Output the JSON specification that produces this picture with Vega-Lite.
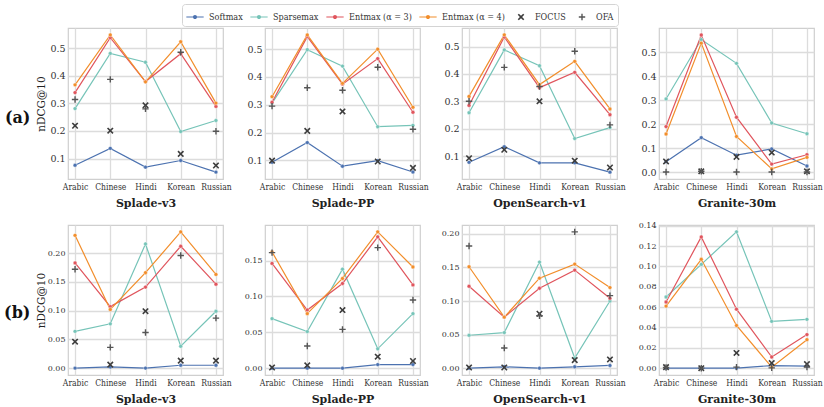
{
  "$schema": "https://vega.github.io/schema/vega-lite/v6.json",
  "padding": {"left": 4, "top": 3, "right": 5, "bottom": 2},
  "background": "white",
  "datasets": {
    "scores": [
      {"row":"a","model":"Splade-v3","method":"Softmax","lang":"Arabic","ndcg":0.076},
      {"row":"a","model":"Splade-v3","method":"Softmax","lang":"Chinese","ndcg":0.137},
      {"row":"a","model":"Splade-v3","method":"Softmax","lang":"Hindi","ndcg":0.069},
      {"row":"a","model":"Splade-v3","method":"Softmax","lang":"Korean","ndcg":0.093},
      {"row":"a","model":"Splade-v3","method":"Softmax","lang":"Russian","ndcg":0.051},
      {"row":"a","model":"Splade-v3","method":"Sparsemax","lang":"Arabic","ndcg":0.281},
      {"row":"a","model":"Splade-v3","method":"Sparsemax","lang":"Chinese","ndcg":0.481},
      {"row":"a","model":"Splade-v3","method":"Sparsemax","lang":"Hindi","ndcg":0.449},
      {"row":"a","model":"Splade-v3","method":"Sparsemax","lang":"Korean","ndcg":0.198},
      {"row":"a","model":"Splade-v3","method":"Sparsemax","lang":"Russian","ndcg":0.238},
      {"row":"a","model":"Splade-v3","method":"Entmax (α = 3)","lang":"Arabic","ndcg":0.339},
      {"row":"a","model":"Splade-v3","method":"Entmax (α = 3)","lang":"Chinese","ndcg":0.538},
      {"row":"a","model":"Splade-v3","method":"Entmax (α = 3)","lang":"Hindi","ndcg":0.379},
      {"row":"a","model":"Splade-v3","method":"Entmax (α = 3)","lang":"Korean","ndcg":0.480},
      {"row":"a","model":"Splade-v3","method":"Entmax (α = 3)","lang":"Russian","ndcg":0.289},
      {"row":"a","model":"Splade-v3","method":"Entmax (α = 4)","lang":"Arabic","ndcg":0.367},
      {"row":"a","model":"Splade-v3","method":"Entmax (α = 4)","lang":"Chinese","ndcg":0.548},
      {"row":"a","model":"Splade-v3","method":"Entmax (α = 4)","lang":"Hindi","ndcg":0.378},
      {"row":"a","model":"Splade-v3","method":"Entmax (α = 4)","lang":"Korean","ndcg":0.523},
      {"row":"a","model":"Splade-v3","method":"Entmax (α = 4)","lang":"Russian","ndcg":0.301},
      {"row":"a","model":"Splade-v3","method":"FOCUS","lang":"Arabic","ndcg":0.219},
      {"row":"a","model":"Splade-v3","method":"FOCUS","lang":"Chinese","ndcg":0.201},
      {"row":"a","model":"Splade-v3","method":"FOCUS","lang":"Hindi","ndcg":0.293},
      {"row":"a","model":"Splade-v3","method":"FOCUS","lang":"Korean","ndcg":0.117},
      {"row":"a","model":"Splade-v3","method":"FOCUS","lang":"Russian","ndcg":0.075},
      {"row":"a","model":"Splade-v3","method":"OFA","lang":"Arabic","ndcg":0.314},
      {"row":"a","model":"Splade-v3","method":"OFA","lang":"Chinese","ndcg":0.387},
      {"row":"a","model":"Splade-v3","method":"OFA","lang":"Hindi","ndcg":0.280},
      {"row":"a","model":"Splade-v3","method":"OFA","lang":"Korean","ndcg":0.485},
      {"row":"a","model":"Splade-v3","method":"OFA","lang":"Russian","ndcg":0.199},

      {"row":"a","model":"Splade-PP","method":"Softmax","lang":"Arabic","ndcg":0.093},
      {"row":"a","model":"Splade-PP","method":"Softmax","lang":"Chinese","ndcg":0.164},
      {"row":"a","model":"Splade-PP","method":"Softmax","lang":"Hindi","ndcg":0.079},
      {"row":"a","model":"Splade-PP","method":"Softmax","lang":"Korean","ndcg":0.099},
      {"row":"a","model":"Splade-PP","method":"Softmax","lang":"Russian","ndcg":0.058},
      {"row":"a","model":"Splade-PP","method":"Sparsemax","lang":"Arabic","ndcg":0.306},
      {"row":"a","model":"Splade-PP","method":"Sparsemax","lang":"Chinese","ndcg":0.498},
      {"row":"a","model":"Splade-PP","method":"Sparsemax","lang":"Hindi","ndcg":0.439},
      {"row":"a","model":"Splade-PP","method":"Sparsemax","lang":"Korean","ndcg":0.221},
      {"row":"a","model":"Splade-PP","method":"Sparsemax","lang":"Russian","ndcg":0.226},
      {"row":"a","model":"Splade-PP","method":"Entmax (α = 3)","lang":"Arabic","ndcg":0.309},
      {"row":"a","model":"Splade-PP","method":"Entmax (α = 3)","lang":"Chinese","ndcg":0.545},
      {"row":"a","model":"Splade-PP","method":"Entmax (α = 3)","lang":"Hindi","ndcg":0.374},
      {"row":"a","model":"Splade-PP","method":"Entmax (α = 3)","lang":"Korean","ndcg":0.466},
      {"row":"a","model":"Splade-PP","method":"Entmax (α = 3)","lang":"Russian","ndcg":0.273},
      {"row":"a","model":"Splade-PP","method":"Entmax (α = 4)","lang":"Arabic","ndcg":0.329},
      {"row":"a","model":"Splade-PP","method":"Entmax (α = 4)","lang":"Chinese","ndcg":0.551},
      {"row":"a","model":"Splade-PP","method":"Entmax (α = 4)","lang":"Hindi","ndcg":0.377},
      {"row":"a","model":"Splade-PP","method":"Entmax (α = 4)","lang":"Korean","ndcg":0.500},
      {"row":"a","model":"Splade-PP","method":"Entmax (α = 4)","lang":"Russian","ndcg":0.291},
      {"row":"a","model":"Splade-PP","method":"FOCUS","lang":"Arabic","ndcg":0.099},
      {"row":"a","model":"Splade-PP","method":"FOCUS","lang":"Chinese","ndcg":0.206},
      {"row":"a","model":"Splade-PP","method":"FOCUS","lang":"Hindi","ndcg":0.276},
      {"row":"a","model":"Splade-PP","method":"FOCUS","lang":"Korean","ndcg":0.096},
      {"row":"a","model":"Splade-PP","method":"FOCUS","lang":"Russian","ndcg":0.073},
      {"row":"a","model":"Splade-PP","method":"OFA","lang":"Arabic","ndcg":0.295},
      {"row":"a","model":"Splade-PP","method":"OFA","lang":"Chinese","ndcg":0.361},
      {"row":"a","model":"Splade-PP","method":"OFA","lang":"Hindi","ndcg":0.352},
      {"row":"a","model":"Splade-PP","method":"OFA","lang":"Korean","ndcg":0.435},
      {"row":"a","model":"Splade-PP","method":"OFA","lang":"Russian","ndcg":0.212},

      {"row":"a","model":"OpenSearch-v1","method":"Softmax","lang":"Arabic","ndcg":0.077},
      {"row":"a","model":"OpenSearch-v1","method":"Softmax","lang":"Chinese","ndcg":0.134},
      {"row":"a","model":"OpenSearch-v1","method":"Softmax","lang":"Hindi","ndcg":0.075},
      {"row":"a","model":"OpenSearch-v1","method":"Softmax","lang":"Korean","ndcg":0.075},
      {"row":"a","model":"OpenSearch-v1","method":"Softmax","lang":"Russian","ndcg":0.041},
      {"row":"a","model":"OpenSearch-v1","method":"Sparsemax","lang":"Arabic","ndcg":0.258},
      {"row":"a","model":"OpenSearch-v1","method":"Sparsemax","lang":"Chinese","ndcg":0.488},
      {"row":"a","model":"OpenSearch-v1","method":"Sparsemax","lang":"Hindi","ndcg":0.430},
      {"row":"a","model":"OpenSearch-v1","method":"Sparsemax","lang":"Korean","ndcg":0.164},
      {"row":"a","model":"OpenSearch-v1","method":"Sparsemax","lang":"Russian","ndcg":0.204},
      {"row":"a","model":"OpenSearch-v1","method":"Entmax (α = 3)","lang":"Arabic","ndcg":0.285},
      {"row":"a","model":"OpenSearch-v1","method":"Entmax (α = 3)","lang":"Chinese","ndcg":0.535},
      {"row":"a","model":"OpenSearch-v1","method":"Entmax (α = 3)","lang":"Hindi","ndcg":0.350},
      {"row":"a","model":"OpenSearch-v1","method":"Entmax (α = 3)","lang":"Korean","ndcg":0.406},
      {"row":"a","model":"OpenSearch-v1","method":"Entmax (α = 3)","lang":"Russian","ndcg":0.251},
      {"row":"a","model":"OpenSearch-v1","method":"Entmax (α = 4)","lang":"Arabic","ndcg":0.318},
      {"row":"a","model":"OpenSearch-v1","method":"Entmax (α = 4)","lang":"Chinese","ndcg":0.543},
      {"row":"a","model":"OpenSearch-v1","method":"Entmax (α = 4)","lang":"Hindi","ndcg":0.361},
      {"row":"a","model":"OpenSearch-v1","method":"Entmax (α = 4)","lang":"Korean","ndcg":0.446},
      {"row":"a","model":"OpenSearch-v1","method":"Entmax (α = 4)","lang":"Russian","ndcg":0.272},
      {"row":"a","model":"OpenSearch-v1","method":"FOCUS","lang":"Arabic","ndcg":0.092},
      {"row":"a","model":"OpenSearch-v1","method":"FOCUS","lang":"Chinese","ndcg":0.123},
      {"row":"a","model":"OpenSearch-v1","method":"FOCUS","lang":"Hindi","ndcg":0.300},
      {"row":"a","model":"OpenSearch-v1","method":"FOCUS","lang":"Korean","ndcg":0.083},
      {"row":"a","model":"OpenSearch-v1","method":"FOCUS","lang":"Russian","ndcg":0.058},
      {"row":"a","model":"OpenSearch-v1","method":"OFA","lang":"Arabic","ndcg":0.300},
      {"row":"a","model":"OpenSearch-v1","method":"OFA","lang":"Chinese","ndcg":0.424},
      {"row":"a","model":"OpenSearch-v1","method":"OFA","lang":"Hindi","ndcg":0.354},
      {"row":"a","model":"OpenSearch-v1","method":"OFA","lang":"Korean","ndcg":0.483},
      {"row":"a","model":"OpenSearch-v1","method":"OFA","lang":"Russian","ndcg":0.214},

      {"row":"a","model":"Granite-30m","method":"Softmax","lang":"Arabic","ndcg":0.044},
      {"row":"a","model":"Granite-30m","method":"Softmax","lang":"Chinese","ndcg":0.144},
      {"row":"a","model":"Granite-30m","method":"Softmax","lang":"Hindi","ndcg":0.071},
      {"row":"a","model":"Granite-30m","method":"Softmax","lang":"Korean","ndcg":0.097},
      {"row":"a","model":"Granite-30m","method":"Softmax","lang":"Russian","ndcg":0.026},
      {"row":"a","model":"Granite-30m","method":"Sparsemax","lang":"Arabic","ndcg":0.305},
      {"row":"a","model":"Granite-30m","method":"Sparsemax","lang":"Chinese","ndcg":0.552},
      {"row":"a","model":"Granite-30m","method":"Sparsemax","lang":"Hindi","ndcg":0.453},
      {"row":"a","model":"Granite-30m","method":"Sparsemax","lang":"Korean","ndcg":0.205},
      {"row":"a","model":"Granite-30m","method":"Sparsemax","lang":"Russian","ndcg":0.160},
      {"row":"a","model":"Granite-30m","method":"Entmax (α = 3)","lang":"Arabic","ndcg":0.190},
      {"row":"a","model":"Granite-30m","method":"Entmax (α = 3)","lang":"Chinese","ndcg":0.571},
      {"row":"a","model":"Granite-30m","method":"Entmax (α = 3)","lang":"Hindi","ndcg":0.229},
      {"row":"a","model":"Granite-30m","method":"Entmax (α = 3)","lang":"Korean","ndcg":0.034},
      {"row":"a","model":"Granite-30m","method":"Entmax (α = 3)","lang":"Russian","ndcg":0.073},
      {"row":"a","model":"Granite-30m","method":"Entmax (α = 4)","lang":"Arabic","ndcg":0.159},
      {"row":"a","model":"Granite-30m","method":"Entmax (α = 4)","lang":"Chinese","ndcg":0.537},
      {"row":"a","model":"Granite-30m","method":"Entmax (α = 4)","lang":"Hindi","ndcg":0.149},
      {"row":"a","model":"Granite-30m","method":"Entmax (α = 4)","lang":"Korean","ndcg":0.014},
      {"row":"a","model":"Granite-30m","method":"Entmax (α = 4)","lang":"Russian","ndcg":0.062},
      {"row":"a","model":"Granite-30m","method":"FOCUS","lang":"Arabic","ndcg":0.045},
      {"row":"a","model":"Granite-30m","method":"FOCUS","lang":"Chinese","ndcg":0.004},
      {"row":"a","model":"Granite-30m","method":"FOCUS","lang":"Hindi","ndcg":0.064},
      {"row":"a","model":"Granite-30m","method":"FOCUS","lang":"Korean","ndcg":0.082},
      {"row":"a","model":"Granite-30m","method":"FOCUS","lang":"Russian","ndcg":0.004},
      {"row":"a","model":"Granite-30m","method":"OFA","lang":"Arabic","ndcg":0.001},
      {"row":"a","model":"Granite-30m","method":"OFA","lang":"Chinese","ndcg":0.004},
      {"row":"a","model":"Granite-30m","method":"OFA","lang":"Hindi","ndcg":0.001},
      {"row":"a","model":"Granite-30m","method":"OFA","lang":"Korean","ndcg":0.001},
      {"row":"a","model":"Granite-30m","method":"OFA","lang":"Russian","ndcg":0.001},

      {"row":"b","model":"Splade-v3","method":"Softmax","lang":"Arabic","ndcg":0.000},
      {"row":"b","model":"Splade-v3","method":"Softmax","lang":"Chinese","ndcg":0.002},
      {"row":"b","model":"Splade-v3","method":"Softmax","lang":"Hindi","ndcg":0.000},
      {"row":"b","model":"Splade-v3","method":"Softmax","lang":"Korean","ndcg":0.005},
      {"row":"b","model":"Splade-v3","method":"Softmax","lang":"Russian","ndcg":0.005},
      {"row":"b","model":"Splade-v3","method":"Sparsemax","lang":"Arabic","ndcg":0.064},
      {"row":"b","model":"Splade-v3","method":"Sparsemax","lang":"Chinese","ndcg":0.077},
      {"row":"b","model":"Splade-v3","method":"Sparsemax","lang":"Hindi","ndcg":0.216},
      {"row":"b","model":"Splade-v3","method":"Sparsemax","lang":"Korean","ndcg":0.038},
      {"row":"b","model":"Splade-v3","method":"Sparsemax","lang":"Russian","ndcg":0.099},
      {"row":"b","model":"Splade-v3","method":"Entmax (α = 3)","lang":"Arabic","ndcg":0.183},
      {"row":"b","model":"Splade-v3","method":"Entmax (α = 3)","lang":"Chinese","ndcg":0.107},
      {"row":"b","model":"Splade-v3","method":"Entmax (α = 3)","lang":"Hindi","ndcg":0.141},
      {"row":"b","model":"Splade-v3","method":"Entmax (α = 3)","lang":"Korean","ndcg":0.212},
      {"row":"b","model":"Splade-v3","method":"Entmax (α = 3)","lang":"Russian","ndcg":0.146},
      {"row":"b","model":"Splade-v3","method":"Entmax (α = 4)","lang":"Arabic","ndcg":0.231},
      {"row":"b","model":"Splade-v3","method":"Entmax (α = 4)","lang":"Chinese","ndcg":0.102},
      {"row":"b","model":"Splade-v3","method":"Entmax (α = 4)","lang":"Hindi","ndcg":0.166},
      {"row":"b","model":"Splade-v3","method":"Entmax (α = 4)","lang":"Korean","ndcg":0.237},
      {"row":"b","model":"Splade-v3","method":"Entmax (α = 4)","lang":"Russian","ndcg":0.163},
      {"row":"b","model":"Splade-v3","method":"FOCUS","lang":"Arabic","ndcg":0.046},
      {"row":"b","model":"Splade-v3","method":"FOCUS","lang":"Chinese","ndcg":0.006},
      {"row":"b","model":"Splade-v3","method":"FOCUS","lang":"Hindi","ndcg":0.099},
      {"row":"b","model":"Splade-v3","method":"FOCUS","lang":"Korean","ndcg":0.013},
      {"row":"b","model":"Splade-v3","method":"FOCUS","lang":"Russian","ndcg":0.013},
      {"row":"b","model":"Splade-v3","method":"OFA","lang":"Arabic","ndcg":0.172},
      {"row":"b","model":"Splade-v3","method":"OFA","lang":"Chinese","ndcg":0.036},
      {"row":"b","model":"Splade-v3","method":"OFA","lang":"Hindi","ndcg":0.062},
      {"row":"b","model":"Splade-v3","method":"OFA","lang":"Korean","ndcg":0.196},
      {"row":"b","model":"Splade-v3","method":"OFA","lang":"Russian","ndcg":0.087},

      {"row":"b","model":"Splade-PP","method":"Softmax","lang":"Arabic","ndcg":0.000},
      {"row":"b","model":"Splade-PP","method":"Softmax","lang":"Chinese","ndcg":0.000},
      {"row":"b","model":"Splade-PP","method":"Softmax","lang":"Hindi","ndcg":0.000},
      {"row":"b","model":"Splade-PP","method":"Softmax","lang":"Korean","ndcg":0.005},
      {"row":"b","model":"Splade-PP","method":"Softmax","lang":"Russian","ndcg":0.005},
      {"row":"b","model":"Splade-PP","method":"Sparsemax","lang":"Arabic","ndcg":0.069},
      {"row":"b","model":"Splade-PP","method":"Sparsemax","lang":"Chinese","ndcg":0.051},
      {"row":"b","model":"Splade-PP","method":"Sparsemax","lang":"Hindi","ndcg":0.138},
      {"row":"b","model":"Splade-PP","method":"Sparsemax","lang":"Korean","ndcg":0.027},
      {"row":"b","model":"Splade-PP","method":"Sparsemax","lang":"Russian","ndcg":0.076},
      {"row":"b","model":"Splade-PP","method":"Entmax (α = 3)","lang":"Arabic","ndcg":0.146},
      {"row":"b","model":"Splade-PP","method":"Entmax (α = 3)","lang":"Chinese","ndcg":0.081},
      {"row":"b","model":"Splade-PP","method":"Entmax (α = 3)","lang":"Hindi","ndcg":0.118},
      {"row":"b","model":"Splade-PP","method":"Entmax (α = 3)","lang":"Korean","ndcg":0.183},
      {"row":"b","model":"Splade-PP","method":"Entmax (α = 3)","lang":"Russian","ndcg":0.116},
      {"row":"b","model":"Splade-PP","method":"Entmax (α = 4)","lang":"Arabic","ndcg":0.162},
      {"row":"b","model":"Splade-PP","method":"Entmax (α = 4)","lang":"Chinese","ndcg":0.076},
      {"row":"b","model":"Splade-PP","method":"Entmax (α = 4)","lang":"Hindi","ndcg":0.125},
      {"row":"b","model":"Splade-PP","method":"Entmax (α = 4)","lang":"Korean","ndcg":0.190},
      {"row":"b","model":"Splade-PP","method":"Entmax (α = 4)","lang":"Russian","ndcg":0.141},
      {"row":"b","model":"Splade-PP","method":"FOCUS","lang":"Arabic","ndcg":0.001},
      {"row":"b","model":"Splade-PP","method":"FOCUS","lang":"Chinese","ndcg":0.004},
      {"row":"b","model":"Splade-PP","method":"FOCUS","lang":"Hindi","ndcg":0.081},
      {"row":"b","model":"Splade-PP","method":"FOCUS","lang":"Korean","ndcg":0.016},
      {"row":"b","model":"Splade-PP","method":"FOCUS","lang":"Russian","ndcg":0.010},
      {"row":"b","model":"Splade-PP","method":"OFA","lang":"Arabic","ndcg":0.161},
      {"row":"b","model":"Splade-PP","method":"OFA","lang":"Chinese","ndcg":0.031},
      {"row":"b","model":"Splade-PP","method":"OFA","lang":"Hindi","ndcg":0.054},
      {"row":"b","model":"Splade-PP","method":"OFA","lang":"Korean","ndcg":0.168},
      {"row":"b","model":"Splade-PP","method":"OFA","lang":"Russian","ndcg":0.095},

      {"row":"b","model":"OpenSearch-v1","method":"Softmax","lang":"Arabic","ndcg":0.000},
      {"row":"b","model":"OpenSearch-v1","method":"Softmax","lang":"Chinese","ndcg":0.002},
      {"row":"b","model":"OpenSearch-v1","method":"Softmax","lang":"Hindi","ndcg":0.000},
      {"row":"b","model":"OpenSearch-v1","method":"Softmax","lang":"Korean","ndcg":0.002},
      {"row":"b","model":"OpenSearch-v1","method":"Softmax","lang":"Russian","ndcg":0.004},
      {"row":"b","model":"OpenSearch-v1","method":"Sparsemax","lang":"Arabic","ndcg":0.049},
      {"row":"b","model":"OpenSearch-v1","method":"Sparsemax","lang":"Chinese","ndcg":0.053},
      {"row":"b","model":"OpenSearch-v1","method":"Sparsemax","lang":"Hindi","ndcg":0.158},
      {"row":"b","model":"OpenSearch-v1","method":"Sparsemax","lang":"Korean","ndcg":0.015},
      {"row":"b","model":"OpenSearch-v1","method":"Sparsemax","lang":"Russian","ndcg":0.100},
      {"row":"b","model":"OpenSearch-v1","method":"Entmax (α = 3)","lang":"Arabic","ndcg":0.122},
      {"row":"b","model":"OpenSearch-v1","method":"Entmax (α = 3)","lang":"Chinese","ndcg":0.076},
      {"row":"b","model":"OpenSearch-v1","method":"Entmax (α = 3)","lang":"Hindi","ndcg":0.119},
      {"row":"b","model":"OpenSearch-v1","method":"Entmax (α = 3)","lang":"Korean","ndcg":0.146},
      {"row":"b","model":"OpenSearch-v1","method":"Entmax (α = 3)","lang":"Russian","ndcg":0.104},
      {"row":"b","model":"OpenSearch-v1","method":"Entmax (α = 4)","lang":"Arabic","ndcg":0.151},
      {"row":"b","model":"OpenSearch-v1","method":"Entmax (α = 4)","lang":"Chinese","ndcg":0.076},
      {"row":"b","model":"OpenSearch-v1","method":"Entmax (α = 4)","lang":"Hindi","ndcg":0.134},
      {"row":"b","model":"OpenSearch-v1","method":"Entmax (α = 4)","lang":"Korean","ndcg":0.155},
      {"row":"b","model":"OpenSearch-v1","method":"Entmax (α = 4)","lang":"Russian","ndcg":0.120},
      {"row":"b","model":"OpenSearch-v1","method":"FOCUS","lang":"Arabic","ndcg":0.001},
      {"row":"b","model":"OpenSearch-v1","method":"FOCUS","lang":"Chinese","ndcg":0.001},
      {"row":"b","model":"OpenSearch-v1","method":"FOCUS","lang":"Hindi","ndcg":0.081},
      {"row":"b","model":"OpenSearch-v1","method":"FOCUS","lang":"Korean","ndcg":0.012},
      {"row":"b","model":"OpenSearch-v1","method":"FOCUS","lang":"Russian","ndcg":0.013},
      {"row":"b","model":"OpenSearch-v1","method":"OFA","lang":"Arabic","ndcg":0.182},
      {"row":"b","model":"OpenSearch-v1","method":"OFA","lang":"Chinese","ndcg":0.030},
      {"row":"b","model":"OpenSearch-v1","method":"OFA","lang":"Hindi","ndcg":0.078},
      {"row":"b","model":"OpenSearch-v1","method":"OFA","lang":"Korean","ndcg":0.203},
      {"row":"b","model":"OpenSearch-v1","method":"OFA","lang":"Russian","ndcg":0.108},

      {"row":"b","model":"Granite-30m","method":"Softmax","lang":"Arabic","ndcg":0.000},
      {"row":"b","model":"Granite-30m","method":"Softmax","lang":"Chinese","ndcg":0.000},
      {"row":"b","model":"Granite-30m","method":"Softmax","lang":"Hindi","ndcg":0.000},
      {"row":"b","model":"Granite-30m","method":"Softmax","lang":"Korean","ndcg":0.0026},
      {"row":"b","model":"Granite-30m","method":"Softmax","lang":"Russian","ndcg":0.002},
      {"row":"b","model":"Granite-30m","method":"Sparsemax","lang":"Arabic","ndcg":0.070},
      {"row":"b","model":"Granite-30m","method":"Sparsemax","lang":"Chinese","ndcg":0.102},
      {"row":"b","model":"Granite-30m","method":"Sparsemax","lang":"Hindi","ndcg":0.134},
      {"row":"b","model":"Granite-30m","method":"Sparsemax","lang":"Korean","ndcg":0.046},
      {"row":"b","model":"Granite-30m","method":"Sparsemax","lang":"Russian","ndcg":0.048},
      {"row":"b","model":"Granite-30m","method":"Entmax (α = 3)","lang":"Arabic","ndcg":0.065},
      {"row":"b","model":"Granite-30m","method":"Entmax (α = 3)","lang":"Chinese","ndcg":0.129},
      {"row":"b","model":"Granite-30m","method":"Entmax (α = 3)","lang":"Hindi","ndcg":0.058},
      {"row":"b","model":"Granite-30m","method":"Entmax (α = 3)","lang":"Korean","ndcg":0.011},
      {"row":"b","model":"Granite-30m","method":"Entmax (α = 3)","lang":"Russian","ndcg":0.033},
      {"row":"b","model":"Granite-30m","method":"Entmax (α = 4)","lang":"Arabic","ndcg":0.061},
      {"row":"b","model":"Granite-30m","method":"Entmax (α = 4)","lang":"Chinese","ndcg":0.107},
      {"row":"b","model":"Granite-30m","method":"Entmax (α = 4)","lang":"Hindi","ndcg":0.042},
      {"row":"b","model":"Granite-30m","method":"Entmax (α = 4)","lang":"Korean","ndcg":0.001},
      {"row":"b","model":"Granite-30m","method":"Entmax (α = 4)","lang":"Russian","ndcg":0.028},
      {"row":"b","model":"Granite-30m","method":"FOCUS","lang":"Arabic","ndcg":0.001},
      {"row":"b","model":"Granite-30m","method":"FOCUS","lang":"Chinese","ndcg":0.000},
      {"row":"b","model":"Granite-30m","method":"FOCUS","lang":"Hindi","ndcg":0.015},
      {"row":"b","model":"Granite-30m","method":"FOCUS","lang":"Korean","ndcg":0.005},
      {"row":"b","model":"Granite-30m","method":"FOCUS","lang":"Russian","ndcg":0.004},
      {"row":"b","model":"Granite-30m","method":"OFA","lang":"Arabic","ndcg":0.0007},
      {"row":"b","model":"Granite-30m","method":"OFA","lang":"Chinese","ndcg":0.000},
      {"row":"b","model":"Granite-30m","method":"OFA","lang":"Hindi","ndcg":0.001},
      {"row":"b","model":"Granite-30m","method":"OFA","lang":"Korean","ndcg":0.0003},
      {"row":"b","model":"Granite-30m","method":"OFA","lang":"Russian","ndcg":0.001}
    ]
  },
  "data": {"name": "scores"},
  "config": {
    "font": "DejaVu Serif",
    "view": {"stroke": "#cfcfcf", "strokeWidth": 1.2},
    "axis": {
      "grid": true, "gridColor": "#dcdcdc", "gridWidth": 1.3,
      "domain": false, "ticks": false,
      "labelFont": "DejaVu Serif", "labelColor": "#333333", "labelFontSize": 9.5, "labelPadding": 3,
      "titleFont": "DejaVu Serif", "titleColor": "#222222"
    },
    "axisX": {"labelAngle": 0, "labelFont": "DejaVu Serif Condensed, DejaVu Serif", "labelFontSize": 8.5, "titleFontWeight": "bold", "titleFontSize": 11, "titlePadding": 7},
    "axisY": {"titleFontWeight": "normal", "titleFontSize": 10.5, "titlePadding": 2},
    "legend": {
      "labelFont": "DejaVu Serif Condensed, DejaVu Serif", "labelFontSize": 9, "labelColor": "#333333", "labelOffset": 5,
      "symbolSize": 300, "symbolStrokeWidth": 0, "columnPadding": 7,
      "strokeColor": "#d4d4d4", "padding": 4, "cornerRadius": 3, "fillColor": "white"
    }
  },
  "spacing": 11,
  "vconcat": [
    {
      "title": {"text": "(a)", "orient": "left", "angle": 0, "anchor": "middle", "align": "left", "baseline": "middle", "fontSize": 16, "fontWeight": "bold", "font": "DejaVu Serif", "color": "#111111", "offset": 5},
      "spacing": 42,
      "bounds": "flush",
      "hconcat": [
        {
          "width": 155, "height": 151,
          "transform": [{"filter": "datum.row === 'a' && datum.model === 'Splade-v3'"}],
          "encoding": {
            "x": {"field": "lang", "type": "nominal", "sort": ["Arabic","Chinese","Hindi","Korean","Russian"], "scale": {"type": "point", "padding": 0.2}, "axis": {"title": "Splade-v3"}},
            "y": {"field": "ndcg", "type": "quantitative", "scale": {"domain": [0.026, 0.573], "nice": false, "zero": false}, "axis": {"title": "nDCG@10", "titleX": -22, "titleY": 75.5, "values": [0.1,0.2,0.3,0.4,0.5], "format": ".1f"}},
            "color": {"field": "method", "type": "nominal",
              "scale": {"domain": ["Softmax","Sparsemax","Entmax (α = 3)","Entmax (α = 4)","FOCUS","OFA"], "range": ["#4c72b0","#76c4b8","#e0555d","#f28e2b","#3d3d3d","#555555"]},
              "legend": {"title": null, "orient": "none", "legendX": 114, "legendY": -24, "direction": "horizontal", "columns": 6}}
          },
          "layer": [
            {"transform": [{"filter": "datum.method !== 'FOCUS' && datum.method !== 'OFA'"}], "mark": {"type": "line", "strokeWidth": 1.2}},
            {"transform": [{"filter": "datum.method !== 'FOCUS' && datum.method !== 'OFA'"}], "mark": {"type": "point", "shape": "circle", "filled": true, "size": 15, "opacity": 1, "stroke": "white", "strokeWidth": 0.4}},
            {"transform": [{"filter": "datum.method === 'FOCUS' || datum.method === 'OFA'"}], "mark": {"type": "point", "filled": true, "size": 300, "opacity": 1},
              "encoding": {"shape": {"field": "method", "type": "nominal",
                "scale": {"domain": ["Softmax","Sparsemax","Entmax (α = 3)","Entmax (α = 4)","FOCUS","OFA"], "range": ["M-1,-0.045H1V0.045H-1Z M0.24,0A0.24,0.24 0 1 1 -0.24,0A0.24,0.24 0 1 1 0.24,0Z","M-1,-0.045H1V0.045H-1Z M0.24,0A0.24,0.24 0 1 1 -0.24,0A0.24,0.24 0 1 1 0.24,0Z","M-1,-0.045H1V0.045H-1Z M0.24,0A0.24,0.24 0 1 1 -0.24,0A0.24,0.24 0 1 1 0.24,0Z","M-1,-0.045H1V0.045H-1Z M0.24,0A0.24,0.24 0 1 1 -0.24,0A0.24,0.24 0 1 1 0.24,0Z","M-0.38,-0.25L-0.25,-0.38L0,-0.13L0.25,-0.38L0.38,-0.25L0.13,0L0.38,0.25L0.25,0.38L0,0.13L-0.25,0.38L-0.38,0.25L-0.13,0Z","M-0.08,-0.37H0.08V-0.08H0.37V0.08H0.08V0.37H-0.08V0.08H-0.37V-0.08H-0.08Z"]},
                "legend": {"title": null, "orient": "none", "legendX": 114, "legendY": -24, "direction": "horizontal", "columns": 6}}}}
          ]
        },
        {
          "width": 155, "height": 151,
          "transform": [{"filter": "datum.row === 'a' && datum.model === 'Splade-PP'"}],
          "encoding": {
            "x": {"field": "lang", "type": "nominal", "sort": ["Arabic","Chinese","Hindi","Korean","Russian"], "scale": {"type": "point", "padding": 0.2}, "axis": {"title": "Splade-PP"}},
            "y": {"field": "ndcg", "type": "quantitative", "scale": {"domain": [0.033, 0.576], "nice": false, "zero": false}, "axis": {"title": null, "values": [0.1,0.2,0.3,0.4,0.5], "format": ".1f"}},
            "color": {"field": "method", "type": "nominal"}
          },
          "layer": [
            {"transform": [{"filter": "datum.method !== 'FOCUS' && datum.method !== 'OFA'"}], "mark": {"type": "line", "strokeWidth": 1.2}},
            {"transform": [{"filter": "datum.method !== 'FOCUS' && datum.method !== 'OFA'"}], "mark": {"type": "point", "shape": "circle", "filled": true, "size": 15, "opacity": 1, "stroke": "white", "strokeWidth": 0.4}},
            {"transform": [{"filter": "datum.method === 'FOCUS' || datum.method === 'OFA'"}], "mark": {"type": "point", "filled": true, "size": 300, "opacity": 1}, "encoding": {"shape": {"field": "method", "type": "nominal"}}}
          ]
        },
        {
          "width": 155, "height": 151,
          "transform": [{"filter": "datum.row === 'a' && datum.model === 'OpenSearch-v1'"}],
          "encoding": {
            "x": {"field": "lang", "type": "nominal", "sort": ["Arabic","Chinese","Hindi","Korean","Russian"], "scale": {"type": "point", "padding": 0.2}, "axis": {"title": "OpenSearch-v1"}},
            "y": {"field": "ndcg", "type": "quantitative", "scale": {"domain": [0.016, 0.568], "nice": false, "zero": false}, "axis": {"title": null, "values": [0.1,0.2,0.3,0.4,0.5], "format": ".1f"}},
            "color": {"field": "method", "type": "nominal"}
          },
          "layer": [
            {"transform": [{"filter": "datum.method !== 'FOCUS' && datum.method !== 'OFA'"}], "mark": {"type": "line", "strokeWidth": 1.2}},
            {"transform": [{"filter": "datum.method !== 'FOCUS' && datum.method !== 'OFA'"}], "mark": {"type": "point", "shape": "circle", "filled": true, "size": 15, "opacity": 1, "stroke": "white", "strokeWidth": 0.4}},
            {"transform": [{"filter": "datum.method === 'FOCUS' || datum.method === 'OFA'"}], "mark": {"type": "point", "filled": true, "size": 300, "opacity": 1}, "encoding": {"shape": {"field": "method", "type": "nominal"}}}
          ]
        },
        {
          "width": 155, "height": 151,
          "transform": [{"filter": "datum.row === 'a' && datum.model === 'Granite-30m'"}],
          "encoding": {
            "x": {"field": "lang", "type": "nominal", "sort": ["Arabic","Chinese","Hindi","Korean","Russian"], "scale": {"type": "point", "padding": 0.2}, "axis": {"title": "Granite-30m"}},
            "y": {"field": "ndcg", "type": "quantitative", "scale": {"domain": [-0.028, 0.6], "nice": false, "zero": false}, "axis": {"title": null, "values": [0,0.1,0.2,0.3,0.4,0.5], "format": ".1f"}},
            "color": {"field": "method", "type": "nominal"}
          },
          "layer": [
            {"transform": [{"filter": "datum.method !== 'FOCUS' && datum.method !== 'OFA'"}], "mark": {"type": "line", "strokeWidth": 1.2}},
            {"transform": [{"filter": "datum.method !== 'FOCUS' && datum.method !== 'OFA'"}], "mark": {"type": "point", "shape": "circle", "filled": true, "size": 15, "opacity": 1, "stroke": "white", "strokeWidth": 0.4}},
            {"transform": [{"filter": "datum.method === 'FOCUS' || datum.method === 'OFA'"}], "mark": {"type": "point", "filled": true, "size": 300, "opacity": 1}, "encoding": {"shape": {"field": "method", "type": "nominal"}}}
          ]
        }
      ]
    },
    {
      "title": {"text": "(b)", "orient": "left", "angle": 0, "anchor": "middle", "align": "left", "baseline": "middle", "fontSize": 16, "fontWeight": "bold", "font": "DejaVu Serif", "color": "#111111", "offset": 5},
      "spacing": 42,
      "bounds": "flush",
      "hconcat": [
        {
          "width": 155, "height": 150,
          "transform": [{"filter": "datum.row === 'b' && datum.model === 'Splade-v3'"}],
          "encoding": {
            "x": {"field": "lang", "type": "nominal", "sort": ["Arabic","Chinese","Hindi","Korean","Russian"], "scale": {"type": "point", "padding": 0.2}, "axis": {"title": "Splade-v3"}},
            "y": {"field": "ndcg", "type": "quantitative", "scale": {"domain": [-0.012, 0.249], "nice": false, "zero": false}, "axis": {"title": "nDCG@10", "titleX": -22, "titleY": 75, "labelFontSize": 8, "values": [0,0.05,0.1,0.15,0.2], "format": ".2f"}},
            "color": {"field": "method", "type": "nominal"}
          },
          "layer": [
            {"transform": [{"filter": "datum.method !== 'FOCUS' && datum.method !== 'OFA'"}], "mark": {"type": "line", "strokeWidth": 1.2}},
            {"transform": [{"filter": "datum.method !== 'FOCUS' && datum.method !== 'OFA'"}], "mark": {"type": "point", "shape": "circle", "filled": true, "size": 15, "opacity": 1, "stroke": "white", "strokeWidth": 0.4}},
            {"transform": [{"filter": "datum.method === 'FOCUS' || datum.method === 'OFA'"}], "mark": {"type": "point", "filled": true, "size": 300, "opacity": 1}, "encoding": {"shape": {"field": "method", "type": "nominal"}}}
          ]
        },
        {
          "width": 155, "height": 150,
          "transform": [{"filter": "datum.row === 'b' && datum.model === 'Splade-PP'"}],
          "encoding": {
            "x": {"field": "lang", "type": "nominal", "sort": ["Arabic","Chinese","Hindi","Korean","Russian"], "scale": {"type": "point", "padding": 0.2}, "axis": {"title": "Splade-PP"}},
            "y": {"field": "ndcg", "type": "quantitative", "scale": {"domain": [-0.0095, 0.1995], "nice": false, "zero": false}, "axis": {"title": null, "labelFontSize": 8, "values": [0,0.05,0.1,0.15], "format": ".2f"}},
            "color": {"field": "method", "type": "nominal"}
          },
          "layer": [
            {"transform": [{"filter": "datum.method !== 'FOCUS' && datum.method !== 'OFA'"}], "mark": {"type": "line", "strokeWidth": 1.2}},
            {"transform": [{"filter": "datum.method !== 'FOCUS' && datum.method !== 'OFA'"}], "mark": {"type": "point", "shape": "circle", "filled": true, "size": 15, "opacity": 1, "stroke": "white", "strokeWidth": 0.4}},
            {"transform": [{"filter": "datum.method === 'FOCUS' || datum.method === 'OFA'"}], "mark": {"type": "point", "filled": true, "size": 300, "opacity": 1}, "encoding": {"shape": {"field": "method", "type": "nominal"}}}
          ]
        },
        {
          "width": 155, "height": 150,
          "transform": [{"filter": "datum.row === 'b' && datum.model === 'OpenSearch-v1'"}],
          "encoding": {
            "x": {"field": "lang", "type": "nominal", "sort": ["Arabic","Chinese","Hindi","Korean","Russian"], "scale": {"type": "point", "padding": 0.2}, "axis": {"title": "OpenSearch-v1"}},
            "y": {"field": "ndcg", "type": "quantitative", "scale": {"domain": [-0.0102, 0.2132], "nice": false, "zero": false}, "axis": {"title": null, "labelFontSize": 8, "values": [0,0.05,0.1,0.15,0.2], "format": ".2f"}},
            "color": {"field": "method", "type": "nominal"}
          },
          "layer": [
            {"transform": [{"filter": "datum.method !== 'FOCUS' && datum.method !== 'OFA'"}], "mark": {"type": "line", "strokeWidth": 1.2}},
            {"transform": [{"filter": "datum.method !== 'FOCUS' && datum.method !== 'OFA'"}], "mark": {"type": "point", "shape": "circle", "filled": true, "size": 15, "opacity": 1, "stroke": "white", "strokeWidth": 0.4}},
            {"transform": [{"filter": "datum.method === 'FOCUS' || datum.method === 'OFA'"}], "mark": {"type": "point", "filled": true, "size": 300, "opacity": 1}, "encoding": {"shape": {"field": "method", "type": "nominal"}}}
          ]
        },
        {
          "width": 155, "height": 150,
          "transform": [{"filter": "datum.row === 'b' && datum.model === 'Granite-30m'"}],
          "encoding": {
            "x": {"field": "lang", "type": "nominal", "sort": ["Arabic","Chinese","Hindi","Korean","Russian"], "scale": {"type": "point", "padding": 0.2}, "axis": {"title": "Granite-30m"}},
            "y": {"field": "ndcg", "type": "quantitative", "scale": {"domain": [-0.0067, 0.1407], "nice": false, "zero": false}, "axis": {"title": null, "labelFontSize": 8, "values": [0,0.02,0.04,0.06,0.08,0.1,0.12,0.14], "format": ".2f"}},
            "color": {"field": "method", "type": "nominal"}
          },
          "layer": [
            {"transform": [{"filter": "datum.method !== 'FOCUS' && datum.method !== 'OFA'"}], "mark": {"type": "line", "strokeWidth": 1.2}},
            {"transform": [{"filter": "datum.method !== 'FOCUS' && datum.method !== 'OFA'"}], "mark": {"type": "point", "shape": "circle", "filled": true, "size": 15, "opacity": 1, "stroke": "white", "strokeWidth": 0.4}},
            {"transform": [{"filter": "datum.method === 'FOCUS' || datum.method === 'OFA'"}], "mark": {"type": "point", "filled": true, "size": 300, "opacity": 1}, "encoding": {"shape": {"field": "method", "type": "nominal"}}}
          ]
        }
      ]
    }
  ]
}
